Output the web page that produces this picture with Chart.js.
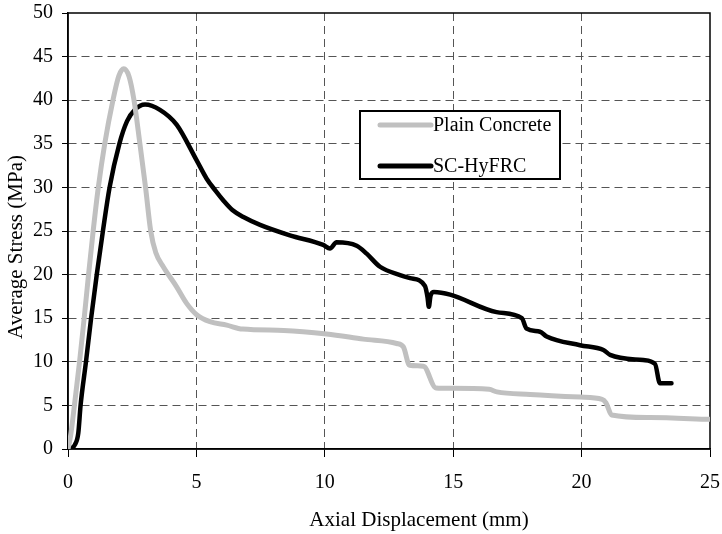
<!DOCTYPE html>
<html>
<head>
<meta charset="utf-8">
<script src="https://cdn.jsdelivr.net/npm/chart.js@4.4.1/dist/chart.umd.min.js"></script>
<style>
  html, body { margin: 0; padding: 0; background: #fff; }
  #wrap { width: 722px; height: 534px; }
</style>
</head>
<body>
<div id="wrap"><canvas id="chart" width="722" height="534"></canvas></div>
<script>
// values (displacement in mm, stress in MPa)
const plainX = [0, 0.1, 0.25, 0.45, 0.63, 0.8, 0.98, 1.18, 1.43, 1.75, 1.98, 2.17, 2.38, 2.57, 2.8, 3.02, 3.22, 3.42, 3.71, 4.23, 4.62, 5.01, 5.53, 6.18, 6.8, 8.4, 10.07, 11.5, 12.8, 13.06, 13.3, 13.84, 14.33, 14.9, 16.4, 16.7, 18.0, 19.95, 20.8, 20.95, 21.17, 22.66, 25];
const plainY = [0, 1.5, 5, 10, 15, 20, 25, 30, 35, 40, 42.8, 43.6, 42.7, 40, 35, 30, 25, 22.5, 20.9, 18.6, 16.7, 15.4, 14.6, 14.2, 13.75, 13.6, 13.2, 12.6, 12.1, 11.7, 9.6, 9.5, 7.0, 6.96, 6.84, 6.55, 6.25, 5.95, 5.7, 5.3, 3.9, 3.6, 3.4];

const hyX = [0, 0.12, 0.27, 0.4, 0.49, 0.7, 0.9, 1.12, 1.36, 1.62, 2.0, 2.3, 2.6, 3.0, 3.58, 4.23, 5.01, 5.4, 5.75, 6.05, 6.4, 6.83, 7.48, 8.64, 9.94, 10.2, 10.46, 11.24, 11.63, 12.15, 12.93, 13.32, 13.9, 14.0, 14.05, 14.12, 14.25, 14.88, 16.69, 17.67, 17.86, 18.38, 18.64, 19.94, 20.85, 21.11, 22.4, 22.86, 23.05, 23.5];
const hyY = [0, 0.1, 0.5, 1.8, 5, 10, 15, 20, 25, 30, 35, 37.6, 38.9, 39.5, 38.9, 37.2, 33.1, 31.0, 29.6, 28.5, 27.4, 26.6, 25.7, 24.5, 23.4, 23.0, 23.7, 23.3, 22.4, 20.9, 19.95, 19.6, 18.7, 17.4, 16.3, 17.6, 18.0, 17.7, 15.7, 15.0, 13.8, 13.45, 12.9, 11.9, 11.35, 10.8, 10.2, 9.75, 7.53, 7.53];

const seriesNames = ['Plain Concrete', 'SC-HyFRC'];
const seriesColors = ['#c0c0c0', '#000000'];

const xTitle = 'Axial Displacement (mm)';
const yTitle = 'Average Stress (MPa)';

const FONT = "'Liberation Serif', 'Times New Roman', serif";

function toPoints(xs, ys) {
  return xs.map((x, i) => ({ x: x, y: ys[i] }));
}

// solid frame around the plot area
const framePlugin = {
  id: 'frame',
  beforeDatasetsDraw(chart) {
    const a = chart.chartArea;
    const ctx = chart.ctx;
    ctx.save();
    ctx.strokeStyle = '#000';
    ctx.lineWidth = 1.5;
    ctx.strokeRect(a.left, a.top, a.right - a.left, a.bottom - a.top);
    ctx.restore();
  }
};

// axis titles, placed where the original has them
const titlePlugin = {
  id: 'axisTitles',
  afterDraw(chart) {
    const ctx = chart.ctx;
    ctx.save();
    ctx.fillStyle = '#000';
    ctx.font = '21px ' + FONT;
    ctx.textAlign = 'center';
    ctx.textBaseline = 'alphabetic';
    ctx.fillText(xTitle, 419, 526);
    ctx.translate(22, 247);
    ctx.rotate(-Math.PI / 2);
    ctx.fillText(yTitle, 0, 0);
    ctx.restore();
  }
};

// boxed legend inside the plot
const legendPlugin = {
  id: 'boxLegend',
  afterDatasetsDraw(chart) {
    const ctx = chart.ctx;
    const bx = 360, by = 111, bw = 200, bh = 68;
    ctx.save();
    ctx.fillStyle = '#fff';
    ctx.fillRect(bx, by, bw, bh);
    ctx.strokeStyle = '#000';
    ctx.lineWidth = 2;
    ctx.strokeRect(bx, by, bw, bh);
    ctx.font = '20px ' + FONT;
    ctx.textBaseline = 'middle';
    ctx.lineCap = 'round';
    chart.data.datasets.forEach((ds, i) => {
      const y = by + 14 + i * 41;
      ctx.strokeStyle = ds.borderColor;
      ctx.lineWidth = 5;
      ctx.beginPath();
      ctx.moveTo(bx + 20, y);
      ctx.lineTo(bx + 71, y);
      ctx.stroke();
      ctx.fillStyle = '#000';
      ctx.fillText(ds.label, bx + 73, y + 1);
    });
    ctx.restore();
  }
};

const edge = (min, max) => (c) => (c.tick && (c.tick.value === min || c.tick.value === max)) ? 'rgba(0,0,0,0)' : '#555';

new Chart(document.getElementById('chart'), {
  type: 'line',
  data: {
    datasets: [
      { label: seriesNames[0], data: toPoints(plainX, plainY), borderColor: seriesColors[0], borderWidth: 5 },
      { label: seriesNames[1], data: toPoints(hyX, hyY), borderColor: seriesColors[1], borderWidth: 4.5 }
    ]
  },
  options: {
    responsive: false,
    animation: false,
    layout: { padding: { top: 13, right: 12, left: 0, bottom: 0 } },
    elements: {
      point: { radius: 0 },
      line: { tension: 0.3, cubicInterpolationMode: 'monotone', borderCapStyle: 'round', borderJoinStyle: 'round', fill: false }
    },
    plugins: { legend: { display: false }, tooltip: { enabled: false } },
    scales: {
      x: {
        type: 'linear', min: 0, max: 25,
        afterFit(s) { s.height = 85; s.paddingLeft = 0; s.paddingRight = 0; },
        ticks: { stepSize: 5, color: '#000', padding: 14, font: { family: FONT, size: 20 } },
        grid: { color: edge(0, 25), tickColor: '#000', tickLength: 8, lineWidth: 1 },
        border: { display: true, color: '#000', width: 1.5, dash: [8, 5] },
        title: { display: false }
      },
      y: {
        min: 0, max: 50,
        afterFit(s) { s.width = 68; s.paddingTop = 0; s.paddingBottom = 0; },
        ticks: { stepSize: 5, color: '#000', padding: 9, font: { family: FONT, size: 20 } },
        grid: { color: edge(0, 50), tickColor: '#000', tickLength: 6, lineWidth: 1 },
        border: { display: true, color: '#000', width: 1.5, dash: [8, 5] },
        title: { display: false }
      }
    }
  },
  plugins: [framePlugin, legendPlugin, titlePlugin]
});
</script>
</body>
</html>
